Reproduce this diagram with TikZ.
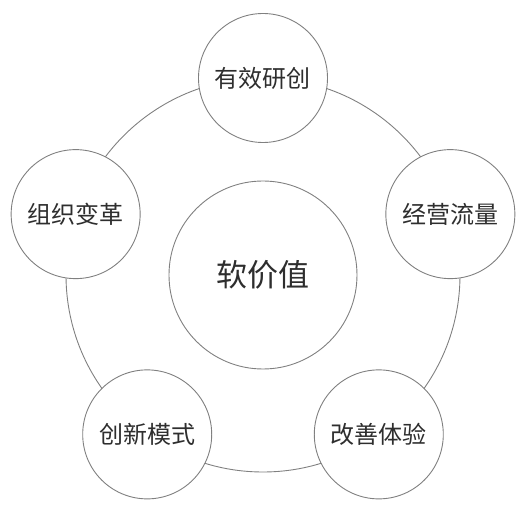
\documentclass[tikz,border=0pt]{standalone}
\usepackage{fontspec}
\newfontfamily\cjk{Noto Sans CJK SC}
\usepackage{tikz}
\usetikzlibrary{positioning}
\usepackage{xcolor}
\definecolor{ringgray}{rgb}{0.50,0.50,0.50}
\definecolor{inkgray}{rgb}{0.18,0.18,0.18}
\tikzset{
  hub/.style ={circle, draw=ringgray, line width=0.9pt, fill=white,
               inner sep=0pt, minimum size=188pt, text=inkgray,
               font=\cjk\fontsize{31}{31}\selectfont},
  sat/.style ={hub, minimum size=129pt, font=\cjk\fontsize{24}{24}\selectfont},
  ring/.style={draw=ringgray, line width=0.9pt},
}

\begin{document}
\begin{tikzpicture}
  \useasboundingbox (-263pt,-247pt) rectangle (262pt,275pt);
  \node[hub] (soft) at (0,0) {软价值};
  \draw[ring] (soft.center) circle (197pt);
  \node[sat] (rd)    at (90:197pt)  {有效研创};
  \node[sat] (flow)  at (18:197pt)  {经营流量};
  \node[sat] (exp)   at (-54:197pt) {改善体验};
  \node[sat] (model) at (234:197pt) {创新模式};
  \node[sat] (org)   at (162:197pt) {组织变革};
\end{tikzpicture}
\end{document}
